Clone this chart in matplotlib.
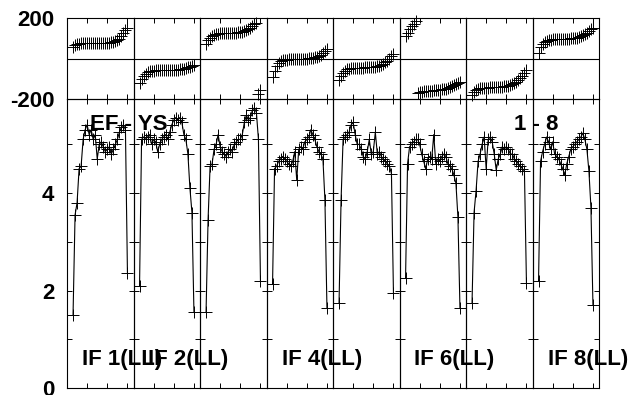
import numpy as np
import matplotlib
matplotlib.use('Agg')
import matplotlib.pyplot as plt

# ---------------- data ----------------
channels = list(range(3, 31))

if_labels = ["IF 1(LL)", "IF 2(LL)", "", "IF 4(LL)", "", "IF 6(LL)", "", "IF 8(LL)"]
baseline_label = "EF - YS"
range_label = "1 - 8"

amp_if1 = [1.5, 3.55, 3.8, 4.5, 4.55, 5.1, 5.3, 5.4, 5.2, 5.3, 5.1, 5.2, 4.7, 5.0,
           5.05, 4.95, 4.85, 4.9, 4.95, 4.8, 4.9, 5.0, 5.1, 5.25, 5.35, 5.4, 5.3, 2.35]
amp_if2 = [2.1, 5.1, 5.15, 5.1, 5.15, 5.2, 5.0, 5.1, 5.05, 4.85, 5.0, 5.1, 5.15, 5.2,
           5.1, 5.25, 5.4, 5.5, 5.55, 5.5, 5.55, 5.45, 5.2, 5.1, 4.8, 4.1, 3.6, 1.55]
amp_if3 = [1.55, 3.45, 4.55, 4.6, 4.9, 5.0, 5.2, 4.95, 4.85, 4.8, 4.75, 4.85, 4.9, 4.85,
           5.0, 5.05, 5.1, 5.1, 5.2, 5.45, 5.6, 5.5, 5.55, 5.7, 5.75, 5.65, 5.1, 2.2]
amp_if4 = [2.13, 4.5, 4.55, 4.65, 4.7, 4.75, 4.7, 4.65, 4.6, 4.55, 4.65, 4.85, 4.27, 4.9,
           4.95, 4.9, 5.05, 5.1, 5.15, 5.3, 5.2, 5.1, 4.95, 4.85, 4.8, 4.7, 3.85, 1.64]
amp_if5 = [1.75, 3.85, 5.1, 5.15, 5.2, 5.25, 5.4, 5.45, 5.2, 5.0, 5.0, 4.9, 4.75, 4.7,
           4.85, 5.1, 4.8, 4.85, 5.25, 4.8, 4.85, 4.75, 4.7, 4.65, 4.6, 4.55, 4.4, 1.95]
amp_if6 = [2.25, 4.6, 4.95, 5.0, 5.05, 5.1, 5.1, 5.0, 4.8, 4.65, 4.5, 4.7, 4.75, 4.7,
           5.2, 4.6, 4.7, 4.65, 4.75, 4.8, 4.75, 4.6, 4.55, 4.5, 4.37, 4.2, 3.5, 1.64]
amp_if7 = [1.75, 3.6, 4.05, 4.65, 4.8, 5.0, 5.15, 4.5, 5.1, 5.15, 5.05, 4.8, 4.47, 4.7,
           4.8, 4.95, 4.9, 4.95, 4.9, 4.8, 4.8, 4.7, 4.65, 4.6, 4.55, 4.5, 4.45, 2.15]
amp_if8 = [2.2, 4.65, 4.85, 5.0, 5.15, 5.05, 4.9, 5.05, 4.8, 4.75, 4.7, 4.6, 4.5, 4.37,
           4.6, 4.75, 4.9, 4.95, 5.0, 5.05, 5.1, 5.15, 5.23, 5.1, 4.9, 4.45, 3.7, 1.7]

phase_if1 = [58, 65, 70, 74, 76, 77, 78, 78, 78, 78, 77, 77, 77, 77,
             77, 78, 78, 78, 79, 80, 82, 85, 90, 98, 110, 125, 140, 152]
phase_if2 = [-122, -100, -85, -75, -68, -64, -62, -60, -59, -59, -58, -58, -58, -58,
             -58, -57, -57, -56, -56, -55, -54, -52, -50, -47, -44, -40, -35, -30]
phase_if3 = [72, 90, 103, 112, 118, 121, 123, 124, 125, 126, 126, 126, 127, 127,
             128, 128, 129, 130, 132, 135, 139, 145, 152, 160, 168, 176, -175, -158]
phase_if4 = [-90, -60, -38, -22, -13, -8, -6, -5, -4, -4, -3, -3, -3, -2,
             -2, -1, 0, 0, 1, 2, 4, 6, 9, 13, 19, 27, 36, 45]
phase_if5 = [-105, -85, -70, -60, -54, -50, -48, -47, -46, -46, -45, -45, -45, -44,
             -44, -43, -42, -41, -40, -38, -35, -31, -26, -19, -11, -1, 10, 20]
phase_if6 = [110, 128, 145, 160, 172, 185, -172, -166, -163, -162, -161, -160, -160, -159,
             -158, -157, -156, -155, -153, -151, -149, -146, -142, -137, -132, -127, -122, -118]
phase_if7 = [-178, -165, -156, -151, -148, -146, -145, -144, -144, -143, -143, -142, -142, -141,
             -140, -139, -138, -136, -134, -131, -127, -122, -115, -106, -96, -84, -70, -55]
phase_if8 = [28, 55, 72, 82, 88, 91, 93, 94, 95, 96, 96, 97, 97, 97,
             98, 98, 99, 100, 101, 103, 106, 110, 115, 121, 128, 136, 144, 152]

amps = [amp_if1, amp_if2, amp_if3, amp_if4, amp_if5, amp_if6, amp_if7, amp_if8]
phases = [phase_if1, phase_if2, phase_if3, phase_if4, phase_if5, phase_if6, phase_if7, phase_if8]

amp_ticks = [0, 1, 2, 3, 4, 5]
amp_ticklabels = ["0", "", "2", "", "4", ""]
phase_ticks = [-200, 200]
phase_ticklabels = ["-200", "200"]
chan_ticks = [10, 20, 30]

# ---------------- style / layout ----------------
plt.rcParams['font.family'] = ['Liberation Sans', 'DejaVu Sans']
plt.rcParams['font.weight'] = 'bold'

W, H = 636, 395
fig = plt.figure(figsize=(W / 100, H / 100), dpi=100)
fig.patch.set_facecolor('white')

x_left, x_right = 67, 599
colw = (x_right - x_left) / 8
ph_top, ph_bot = 18, 99
am_top, am_bot = 99, 388

FS = 16
tick_kw = dict(direction='in', length=3.6, width=0.7, color='black')

for i in range(8):
    left = (x_left + i * colw) / W
    axp = fig.add_axes([left, 1 - ph_bot / H, colw / W, (ph_bot - ph_top) / H])
    axa = fig.add_axes([left, 1 - am_bot / H, colw / W, (am_bot - am_top) / H])
    for ax in (axp, axa):
        ax.set_facecolor('none')
        ax.set_xlim(0, 33)
        for s in ax.spines.values():
            s.set_linewidth(0.8)
            s.set_color('black')
        ax.set_xticks(chan_ticks)
        ax.tick_params(axis='x', which='both', top=True, bottom=True,
                       labelbottom=False, **tick_kw)

    # phase panel
    axp.set_ylim(-200, 200)
    axp.axhline(0, color='black', lw=0.8)
    axp.plot(channels, phases[i], linestyle='none', marker='+', ms=8,
             mew=0.7, color='black', clip_on=False)
    axp.set_yticks(phase_ticks)
    axp.tick_params(axis='y', length=0, pad=9, labelsize=FS)
    if i == 0:
        axp.set_yticklabels(phase_ticklabels, fontweight='bold')
    else:
        axp.set_yticklabels([])

    # amplitude panel
    axa.set_ylim(0, 5.93)
    axa.plot(channels, amps[i], color='black', lw=0.8, marker='+', ms=8,
             mew=0.7)
    axa.set_yticks(amp_ticks)
    axa.tick_params(axis='y', left=True, right=True, pad=9, labelsize=FS, **tick_kw)
    if i == 0:
        axa.set_yticklabels(amp_ticklabels, fontweight='bold')
    else:
        axa.set_yticklabels([])

    if if_labels[i]:
        axa.text(15 / colw, (am_bot - 360) / (am_bot - am_top), if_labels[i],
                 transform=axa.transAxes, fontsize=FS, fontweight='bold',
                 va='center', ha='left', zorder=5)

fig.text(90 / W, 1 - 125 / H, baseline_label, fontsize=FS, fontweight='bold',
         va='center', ha='left')
fig.text(514 / W, 1 - 125 / H, range_label, fontsize=FS, fontweight='bold',
         va='center', ha='left')

fig.savefig('out.png', dpi=100)
